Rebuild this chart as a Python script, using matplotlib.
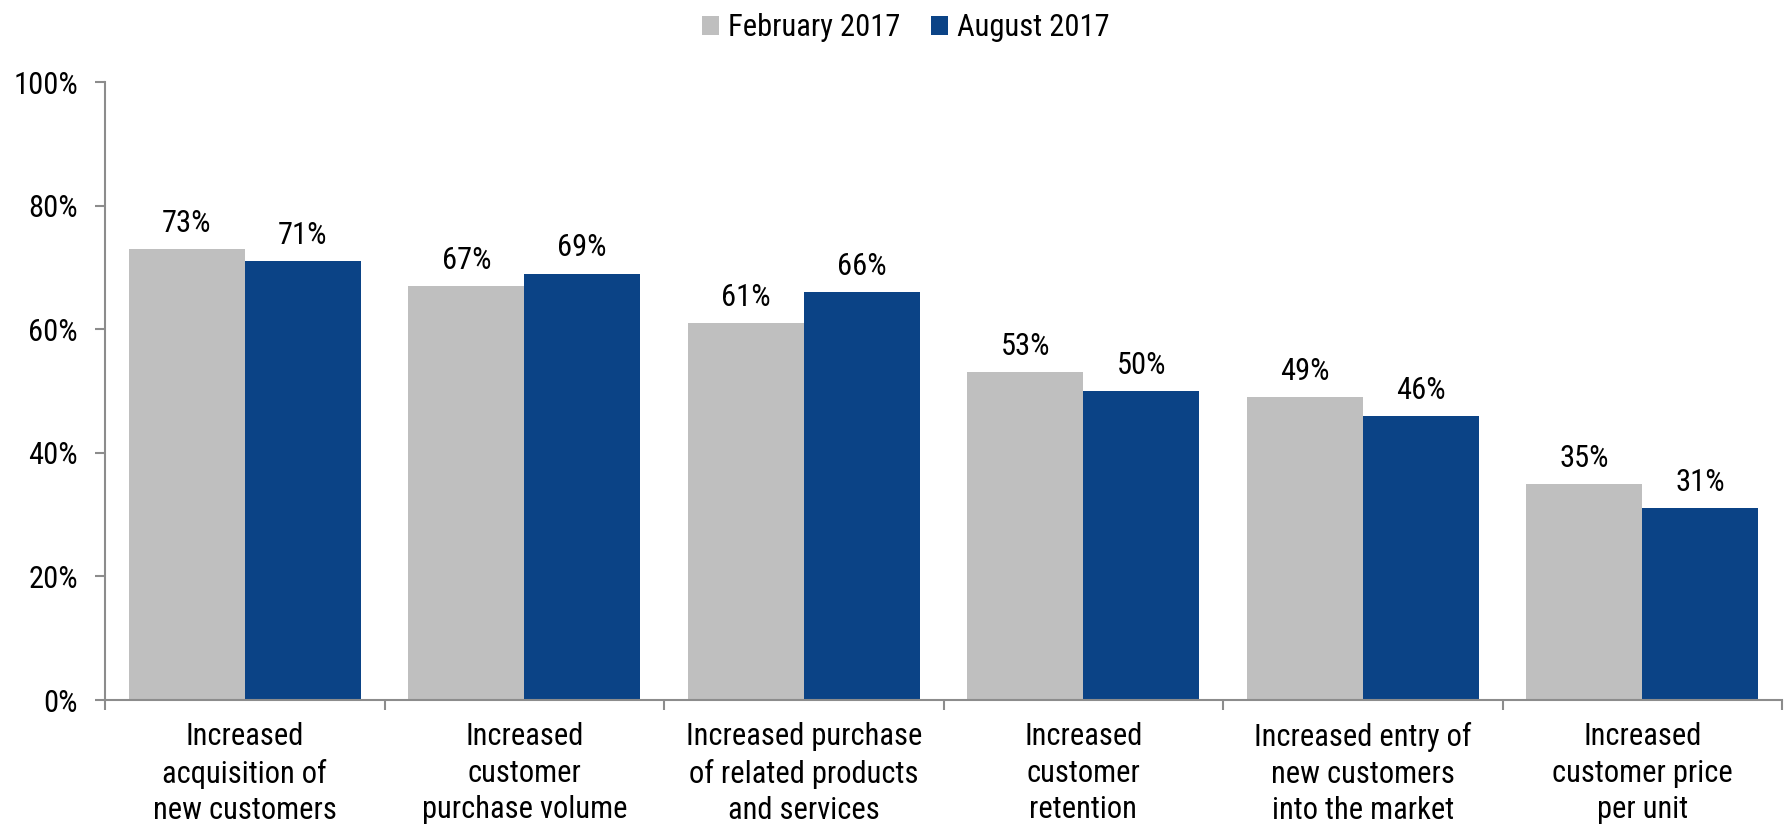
import matplotlib
matplotlib.use("Agg")
import matplotlib.pyplot as plt
import numpy as np

plt.rcParams['font.family'] = ['Roboto Condensed', 'Liberation Sans', 'DejaVu Sans']

# survey results, share of respondents
categories = [
    "Increased\nacquisition of\nnew customers",
    "Increased\ncustomer\npurchase volume",
    "Increased purchase\nof related products\nand services",
    "Increased\ncustomer\nretention",
    "Increased entry of\nnew customers\ninto the market",
    "Increased\ncustomer price\nper unit",
]
feb_2017 = [73, 67, 61, 53, 49, 35]
aug_2017 = [71, 69, 66, 50, 46, 31]
series_names = ["February 2017", "August 2017"]

gray = "#BFBFBF"
blue = "#0B4386"
axis_color = "#8C8C8C"
fs = 22

fig = plt.figure(figsize=(17.87, 8.3), dpi=100)
ax = fig.add_axes([105 / 1787, 130 / 830, 1677 / 1787, 618 / 830])

x = np.arange(len(categories))
w = 0.415
b1 = ax.bar(x - w / 2, feb_2017, w, color=gray, label=series_names[0])
b2 = ax.bar(x + w / 2, aug_2017, w, color=blue, label=series_names[1])

for bars, vals in ((b1, feb_2017), (b2, aug_2017)):
    for bar, v in zip(bars, vals):
        ax.annotate(f"{v}%", (bar.get_x() + bar.get_width() / 2, v),
                    xytext=(0, 8), textcoords="offset points",
                    ha="center", va="bottom", fontsize=fs)

ax.set_xlim(-0.5, len(categories) - 0.5)
ax.set_ylim(0, 100)
ax.set_yticks(range(0, 101, 20))
ax.set_yticklabels([f"{t}%" for t in range(0, 101, 20)], fontsize=fs)

# category boundaries get the tick marks, names sit in between
ax.set_xticks(np.arange(-0.5, len(categories)), minor=False)
ax.set_xticklabels([])
ax.set_xticks(x, minor=True)
ax.set_xticklabels(categories, minor=True, fontsize=fs, linespacing=1.32)
ax.tick_params(axis="x", which="minor", length=0, pad=16)
ax.tick_params(axis="x", which="major", length=7, width=1.5, color=axis_color)
ax.tick_params(axis="y", length=7, width=1.5, color=axis_color, pad=12.5)

for s in ("top", "right"):
    ax.spines[s].set_visible(False)
for s in ("left", "bottom"):
    ax.spines[s].set_color(axis_color)
    ax.spines[s].set_linewidth(1.5)

fig.legend(loc="upper center", bbox_to_anchor=(0.507, 1.017), ncol=2, frameon=False,
           fontsize=fs, handlelength=0.55, handleheight=0.55, handletextpad=0.3,
           columnspacing=1.0)

fig.savefig("out.png", dpi=100)
